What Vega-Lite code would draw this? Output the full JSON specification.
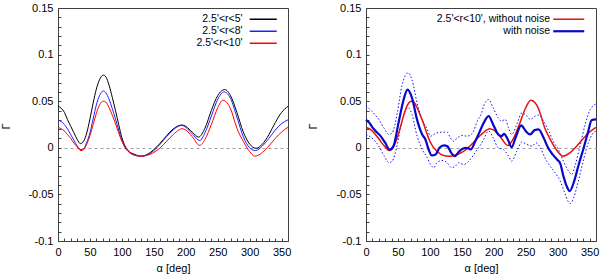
{
  "$schema": "https://vega.github.io/schema/vega-lite/v6.json",
  "padding": {"left": 0, "top": 1, "right": 0, "bottom": 0},
  "spacing": 78,
  "bounds": "flush",
  "resolve": {"scale": {"color": "independent", "strokeWidth": "independent"}, "legend": {"color": "independent"}},
  "config": {
    "font": "'Liberation Sans Narrow', 'Liberation Sans', Arial, sans-serif",
    "view": {"stroke": "#404040", "strokeWidth": 1},
    "axis": {
      "domainColor": "#404040",
      "tickColor": "#404040",
      "tickSize": -3,
      "labelFontSize": 11,
      "labelColor": "#000000",
      "labelPadding": 8,
      "labelOverlap": false,
      "labelFlush": false,
      "titleFontSize": 11,
      "titleFontWeight": "normal",
      "titleColor": "#000000"
    },
    "legend": {"labelFontSize": 10.5, "labelColor": "#000000", "rowPadding": 1}
  },
  "datasets": {
    "left": [
      {"s": "2.5'<r<5'", "a": 0, "g": 0.0445}, {"s": "2.5'<r<5'", "a": 10, "g": 0.038}, {"s": "2.5'<r<5'", "a": 15, "g": 0.030}, {"s": "2.5'<r<5'", "a": 20, "g": 0.023}, {"s": "2.5'<r<5'", "a": 25, "g": 0.016}, {"s": "2.5'<r<5'", "a": 30, "g": 0.009}, {"s": "2.5'<r<5'", "a": 35, "g": 0.0045}, {"s": "2.5'<r<5'", "a": 40, "g": 0.007}, {"s": "2.5'<r<5'", "a": 45, "g": 0.016}, {"s": "2.5'<r<5'", "a": 50, "g": 0.031}, {"s": "2.5'<r<5'", "a": 55, "g": 0.048}, {"s": "2.5'<r<5'", "a": 60, "g": 0.063}, {"s": "2.5'<r<5'", "a": 65, "g": 0.073}, {"s": "2.5'<r<5'", "a": 71, "g": 0.078}, {"s": "2.5'<r<5'", "a": 75, "g": 0.076}, {"s": "2.5'<r<5'", "a": 80, "g": 0.067}, {"s": "2.5'<r<5'", "a": 85, "g": 0.054}, {"s": "2.5'<r<5'", "a": 90, "g": 0.040}, {"s": "2.5'<r<5'", "a": 95, "g": 0.025}, {"s": "2.5'<r<5'", "a": 100, "g": 0.011}, {"s": "2.5'<r<5'", "a": 105, "g": 0.002}, {"s": "2.5'<r<5'", "a": 110, "g": -0.003}, {"s": "2.5'<r<5'", "a": 120, "g": -0.007}, {"s": "2.5'<r<5'", "a": 130, "g": -0.009}, {"s": "2.5'<r<5'", "a": 140, "g": -0.007}, {"s": "2.5'<r<5'", "a": 150, "g": -0.002}, {"s": "2.5'<r<5'", "a": 160, "g": 0.005}, {"s": "2.5'<r<5'", "a": 170, "g": 0.013}, {"s": "2.5'<r<5'", "a": 180, "g": 0.020}, {"s": "2.5'<r<5'", "a": 190, "g": 0.024}, {"s": "2.5'<r<5'", "a": 194, "g": 0.0245}, {"s": "2.5'<r<5'", "a": 200, "g": 0.023}, {"s": "2.5'<r<5'", "a": 210, "g": 0.017}, {"s": "2.5'<r<5'", "a": 220, "g": 0.0115}, {"s": "2.5'<r<5'", "a": 230, "g": 0.021}, {"s": "2.5'<r<5'", "a": 240, "g": 0.040}, {"s": "2.5'<r<5'", "a": 250, "g": 0.056}, {"s": "2.5'<r<5'", "a": 261, "g": 0.0625}, {"s": "2.5'<r<5'", "a": 270, "g": 0.056}, {"s": "2.5'<r<5'", "a": 280, "g": 0.038}, {"s": "2.5'<r<5'", "a": 290, "g": 0.017}, {"s": "2.5'<r<5'", "a": 300, "g": 0.004}, {"s": "2.5'<r<5'", "a": 310, "g": -0.0005}, {"s": "2.5'<r<5'", "a": 320, "g": 0.004}, {"s": "2.5'<r<5'", "a": 330, "g": 0.014}, {"s": "2.5'<r<5'", "a": 340, "g": 0.027}, {"s": "2.5'<r<5'", "a": 350, "g": 0.038}, {"s": "2.5'<r<5'", "a": 360, "g": 0.0445},
      {"s": "2.5'<r<8'", "a": 0, "g": 0.030}, {"s": "2.5'<r<8'", "a": 10, "g": 0.025}, {"s": "2.5'<r<8'", "a": 15, "g": 0.020}, {"s": "2.5'<r<8'", "a": 20, "g": 0.014}, {"s": "2.5'<r<8'", "a": 25, "g": 0.008}, {"s": "2.5'<r<8'", "a": 30, "g": 0.002}, {"s": "2.5'<r<8'", "a": 36, "g": -0.002}, {"s": "2.5'<r<8'", "a": 40, "g": -0.001}, {"s": "2.5'<r<8'", "a": 45, "g": 0.006}, {"s": "2.5'<r<8'", "a": 50, "g": 0.016}, {"s": "2.5'<r<8'", "a": 55, "g": 0.031}, {"s": "2.5'<r<8'", "a": 60, "g": 0.046}, {"s": "2.5'<r<8'", "a": 65, "g": 0.056}, {"s": "2.5'<r<8'", "a": 71, "g": 0.061}, {"s": "2.5'<r<8'", "a": 75, "g": 0.059}, {"s": "2.5'<r<8'", "a": 80, "g": 0.052}, {"s": "2.5'<r<8'", "a": 85, "g": 0.042}, {"s": "2.5'<r<8'", "a": 90, "g": 0.031}, {"s": "2.5'<r<8'", "a": 95, "g": 0.019}, {"s": "2.5'<r<8'", "a": 100, "g": 0.008}, {"s": "2.5'<r<8'", "a": 105, "g": 0.000}, {"s": "2.5'<r<8'", "a": 110, "g": -0.004}, {"s": "2.5'<r<8'", "a": 120, "g": -0.008}, {"s": "2.5'<r<8'", "a": 130, "g": -0.009}, {"s": "2.5'<r<8'", "a": 140, "g": -0.0075}, {"s": "2.5'<r<8'", "a": 150, "g": -0.003}, {"s": "2.5'<r<8'", "a": 160, "g": 0.004}, {"s": "2.5'<r<8'", "a": 170, "g": 0.012}, {"s": "2.5'<r<8'", "a": 180, "g": 0.019}, {"s": "2.5'<r<8'", "a": 190, "g": 0.0235}, {"s": "2.5'<r<8'", "a": 194, "g": 0.024}, {"s": "2.5'<r<8'", "a": 200, "g": 0.022}, {"s": "2.5'<r<8'", "a": 210, "g": 0.015}, {"s": "2.5'<r<8'", "a": 222, "g": 0.0078}, {"s": "2.5'<r<8'", "a": 230, "g": 0.016}, {"s": "2.5'<r<8'", "a": 240, "g": 0.034}, {"s": "2.5'<r<8'", "a": 250, "g": 0.052}, {"s": "2.5'<r<8'", "a": 260, "g": 0.060}, {"s": "2.5'<r<8'", "a": 270, "g": 0.053}, {"s": "2.5'<r<8'", "a": 280, "g": 0.033}, {"s": "2.5'<r<8'", "a": 290, "g": 0.012}, {"s": "2.5'<r<8'", "a": 300, "g": 0.000}, {"s": "2.5'<r<8'", "a": 309, "g": -0.003}, {"s": "2.5'<r<8'", "a": 320, "g": 0.002}, {"s": "2.5'<r<8'", "a": 330, "g": 0.010}, {"s": "2.5'<r<8'", "a": 340, "g": 0.019}, {"s": "2.5'<r<8'", "a": 350, "g": 0.026}, {"s": "2.5'<r<8'", "a": 360, "g": 0.030},
      {"s": "2.5'<r<10'", "a": 0, "g": 0.022}, {"s": "2.5'<r<10'", "a": 10, "g": 0.018}, {"s": "2.5'<r<10'", "a": 15, "g": 0.014}, {"s": "2.5'<r<10'", "a": 20, "g": 0.010}, {"s": "2.5'<r<10'", "a": 25, "g": 0.005}, {"s": "2.5'<r<10'", "a": 30, "g": 0.001}, {"s": "2.5'<r<10'", "a": 36, "g": -0.003}, {"s": "2.5'<r<10'", "a": 40, "g": -0.002}, {"s": "2.5'<r<10'", "a": 45, "g": 0.004}, {"s": "2.5'<r<10'", "a": 50, "g": 0.013}, {"s": "2.5'<r<10'", "a": 55, "g": 0.025}, {"s": "2.5'<r<10'", "a": 60, "g": 0.037}, {"s": "2.5'<r<10'", "a": 65, "g": 0.046}, {"s": "2.5'<r<10'", "a": 71, "g": 0.050}, {"s": "2.5'<r<10'", "a": 75, "g": 0.049}, {"s": "2.5'<r<10'", "a": 80, "g": 0.043}, {"s": "2.5'<r<10'", "a": 85, "g": 0.035}, {"s": "2.5'<r<10'", "a": 90, "g": 0.026}, {"s": "2.5'<r<10'", "a": 95, "g": 0.016}, {"s": "2.5'<r<10'", "a": 100, "g": 0.007}, {"s": "2.5'<r<10'", "a": 105, "g": 0.001}, {"s": "2.5'<r<10'", "a": 110, "g": -0.003}, {"s": "2.5'<r<10'", "a": 120, "g": -0.008}, {"s": "2.5'<r<10'", "a": 130, "g": -0.009}, {"s": "2.5'<r<10'", "a": 140, "g": -0.008}, {"s": "2.5'<r<10'", "a": 150, "g": -0.005}, {"s": "2.5'<r<10'", "a": 160, "g": 0.000}, {"s": "2.5'<r<10'", "a": 170, "g": 0.007}, {"s": "2.5'<r<10'", "a": 180, "g": 0.014}, {"s": "2.5'<r<10'", "a": 190, "g": 0.0195}, {"s": "2.5'<r<10'", "a": 194, "g": 0.0205}, {"s": "2.5'<r<10'", "a": 200, "g": 0.019}, {"s": "2.5'<r<10'", "a": 210, "g": 0.012}, {"s": "2.5'<r<10'", "a": 222, "g": 0.0025}, {"s": "2.5'<r<10'", "a": 230, "g": 0.009}, {"s": "2.5'<r<10'", "a": 240, "g": 0.025}, {"s": "2.5'<r<10'", "a": 250, "g": 0.043}, {"s": "2.5'<r<10'", "a": 258, "g": 0.051}, {"s": "2.5'<r<10'", "a": 265, "g": 0.048}, {"s": "2.5'<r<10'", "a": 270, "g": 0.042}, {"s": "2.5'<r<10'", "a": 280, "g": 0.021}, {"s": "2.5'<r<10'", "a": 290, "g": 0.007}, {"s": "2.5'<r<10'", "a": 300, "g": -0.004}, {"s": "2.5'<r<10'", "a": 308, "g": -0.009}, {"s": "2.5'<r<10'", "a": 320, "g": -0.005}, {"s": "2.5'<r<10'", "a": 330, "g": 0.002}, {"s": "2.5'<r<10'", "a": 340, "g": 0.010}, {"s": "2.5'<r<10'", "a": 350, "g": 0.017}, {"s": "2.5'<r<10'", "a": 360, "g": 0.022}
    ],
    "right": [
      {"s": "2.5'<r<10', without noise", "a": 0, "g": 0.022}, {"s": "2.5'<r<10', without noise", "a": 10, "g": 0.018}, {"s": "2.5'<r<10', without noise", "a": 15, "g": 0.014}, {"s": "2.5'<r<10', without noise", "a": 20, "g": 0.010}, {"s": "2.5'<r<10', without noise", "a": 25, "g": 0.005}, {"s": "2.5'<r<10', without noise", "a": 30, "g": 0.001}, {"s": "2.5'<r<10', without noise", "a": 36, "g": -0.003}, {"s": "2.5'<r<10', without noise", "a": 40, "g": -0.002}, {"s": "2.5'<r<10', without noise", "a": 45, "g": 0.004}, {"s": "2.5'<r<10', without noise", "a": 50, "g": 0.013}, {"s": "2.5'<r<10', without noise", "a": 55, "g": 0.025}, {"s": "2.5'<r<10', without noise", "a": 60, "g": 0.037}, {"s": "2.5'<r<10', without noise", "a": 65, "g": 0.046}, {"s": "2.5'<r<10', without noise", "a": 71, "g": 0.050}, {"s": "2.5'<r<10', without noise", "a": 75, "g": 0.049}, {"s": "2.5'<r<10', without noise", "a": 80, "g": 0.043}, {"s": "2.5'<r<10', without noise", "a": 85, "g": 0.035}, {"s": "2.5'<r<10', without noise", "a": 90, "g": 0.026}, {"s": "2.5'<r<10', without noise", "a": 95, "g": 0.016}, {"s": "2.5'<r<10', without noise", "a": 100, "g": 0.007}, {"s": "2.5'<r<10', without noise", "a": 105, "g": 0.001}, {"s": "2.5'<r<10', without noise", "a": 110, "g": -0.003}, {"s": "2.5'<r<10', without noise", "a": 120, "g": -0.008}, {"s": "2.5'<r<10', without noise", "a": 130, "g": -0.009}, {"s": "2.5'<r<10', without noise", "a": 140, "g": -0.008}, {"s": "2.5'<r<10', without noise", "a": 150, "g": -0.005}, {"s": "2.5'<r<10', without noise", "a": 160, "g": 0.000}, {"s": "2.5'<r<10', without noise", "a": 170, "g": 0.007}, {"s": "2.5'<r<10', without noise", "a": 180, "g": 0.014}, {"s": "2.5'<r<10', without noise", "a": 190, "g": 0.0195}, {"s": "2.5'<r<10', without noise", "a": 194, "g": 0.0205}, {"s": "2.5'<r<10', without noise", "a": 200, "g": 0.019}, {"s": "2.5'<r<10', without noise", "a": 210, "g": 0.012}, {"s": "2.5'<r<10', without noise", "a": 222, "g": 0.0025}, {"s": "2.5'<r<10', without noise", "a": 230, "g": 0.009}, {"s": "2.5'<r<10', without noise", "a": 240, "g": 0.025}, {"s": "2.5'<r<10', without noise", "a": 250, "g": 0.043}, {"s": "2.5'<r<10', without noise", "a": 258, "g": 0.051}, {"s": "2.5'<r<10', without noise", "a": 265, "g": 0.048}, {"s": "2.5'<r<10', without noise", "a": 270, "g": 0.042}, {"s": "2.5'<r<10', without noise", "a": 280, "g": 0.021}, {"s": "2.5'<r<10', without noise", "a": 290, "g": 0.007}, {"s": "2.5'<r<10', without noise", "a": 300, "g": -0.004}, {"s": "2.5'<r<10', without noise", "a": 308, "g": -0.009}, {"s": "2.5'<r<10', without noise", "a": 320, "g": -0.005}, {"s": "2.5'<r<10', without noise", "a": 330, "g": 0.002}, {"s": "2.5'<r<10', without noise", "a": 340, "g": 0.010}, {"s": "2.5'<r<10', without noise", "a": 350, "g": 0.017}, {"s": "2.5'<r<10', without noise", "a": 360, "g": 0.022},
      {"s": "with noise", "a": 0, "g": 0.030}, {"s": "with noise", "a": 5, "g": 0.027}, {"s": "with noise", "a": 10, "g": 0.022}, {"s": "with noise", "a": 15, "g": 0.018}, {"s": "with noise", "a": 22, "g": 0.0133}, {"s": "with noise", "a": 30, "g": 0.0055}, {"s": "with noise", "a": 37, "g": -0.002}, {"s": "with noise", "a": 43, "g": 0.0018}, {"s": "with noise", "a": 51, "g": 0.027}, {"s": "with noise", "a": 59, "g": 0.052}, {"s": "with noise", "a": 65, "g": 0.0625}, {"s": "with noise", "a": 72, "g": 0.0536}, {"s": "with noise", "a": 80, "g": 0.030}, {"s": "with noise", "a": 88, "g": 0.0143}, {"s": "with noise", "a": 93, "g": 0.0089}, {"s": "with noise", "a": 98, "g": -0.0018}, {"s": "with noise", "a": 103, "g": -0.0082}, {"s": "with noise", "a": 109, "g": -0.0071}, {"s": "with noise", "a": 115, "g": 0.0}, {"s": "with noise", "a": 122, "g": 0.0025}, {"s": "with noise", "a": 127, "g": 0.0018}, {"s": "with noise", "a": 134, "g": -0.006}, {"s": "with noise", "a": 139, "g": -0.0089}, {"s": "with noise", "a": 145, "g": -0.0046}, {"s": "with noise", "a": 151, "g": -0.001}, {"s": "with noise", "a": 158, "g": 0.0}, {"s": "with noise", "a": 164, "g": -0.0018}, {"s": "with noise", "a": 171, "g": 0.0071}, {"s": "with noise", "a": 176, "g": 0.0143}, {"s": "with noise", "a": 183, "g": 0.025}, {"s": "with noise", "a": 192, "g": 0.034}, {"s": "with noise", "a": 199, "g": 0.025}, {"s": "with noise", "a": 207, "g": 0.0143}, {"s": "with noise", "a": 212, "g": 0.0125}, {"s": "with noise", "a": 216, "g": 0.015}, {"s": "with noise", "a": 222, "g": 0.0089}, {"s": "with noise", "a": 228, "g": 0.0007}, {"s": "with noise", "a": 234, "g": 0.0107}, {"s": "with noise", "a": 243, "g": 0.024}, {"s": "with noise", "a": 250, "g": 0.018}, {"s": "with noise", "a": 257, "g": 0.0143}, {"s": "with noise", "a": 264, "g": 0.019}, {"s": "with noise", "a": 270, "g": 0.0197}, {"s": "with noise", "a": 278, "g": 0.0107}, {"s": "with noise", "a": 285, "g": 0.0}, {"s": "with noise", "a": 292, "g": -0.0071}, {"s": "with noise", "a": 299, "g": -0.0125}, {"s": "with noise", "a": 304, "g": -0.0168}, {"s": "with noise", "a": 309, "g": -0.0304}, {"s": "with noise", "a": 314, "g": -0.041}, {"s": "with noise", "a": 319, "g": -0.0464}, {"s": "with noise", "a": 325, "g": -0.0375}, {"s": "with noise", "a": 333, "g": -0.0179}, {"s": "with noise", "a": 340, "g": -0.0018}, {"s": "with noise", "a": 348, "g": 0.018}, {"s": "with noise", "a": 353, "g": 0.0296}, {"s": "with noise", "a": 360, "g": 0.0304}
    ],
    "bounds": [
      {"b": "upper", "a": 0, "g": 0.045}, {"b": "upper", "a": 9, "g": 0.0393}, {"b": "upper", "a": 20, "g": 0.0304}, {"b": "upper", "a": 28, "g": 0.0214}, {"b": "upper", "a": 36, "g": 0.0143}, {"b": "upper", "a": 41, "g": 0.016}, {"b": "upper", "a": 49, "g": 0.0375}, {"b": "upper", "a": 56, "g": 0.066}, {"b": "upper", "a": 66, "g": 0.0804}, {"b": "upper", "a": 72, "g": 0.073}, {"b": "upper", "a": 80, "g": 0.048}, {"b": "upper", "a": 88, "g": 0.0304}, {"b": "upper", "a": 96, "g": 0.0197}, {"b": "upper", "a": 101, "g": 0.0125}, {"b": "upper", "a": 106, "g": 0.0143}, {"b": "upper", "a": 111, "g": 0.016}, {"b": "upper", "a": 119, "g": 0.0168}, {"b": "upper", "a": 127, "g": 0.0168}, {"b": "upper", "a": 132, "g": 0.0107}, {"b": "upper", "a": 137, "g": 0.0071}, {"b": "upper", "a": 143, "g": 0.0107}, {"b": "upper", "a": 151, "g": 0.0133}, {"b": "upper", "a": 158, "g": 0.0125}, {"b": "upper", "a": 166, "g": 0.015}, {"b": "upper", "a": 175, "g": 0.030}, {"b": "upper", "a": 181, "g": 0.0375}, {"b": "upper", "a": 184, "g": 0.0447}, {"b": "upper", "a": 192, "g": 0.0518}, {"b": "upper", "a": 199, "g": 0.0429}, {"b": "upper", "a": 207, "g": 0.0321}, {"b": "upper", "a": 212, "g": 0.0286}, {"b": "upper", "a": 218, "g": 0.0304}, {"b": "upper", "a": 223, "g": 0.0214}, {"b": "upper", "a": 228, "g": 0.0143}, {"b": "upper", "a": 236, "g": 0.025}, {"b": "upper", "a": 244, "g": 0.0375}, {"b": "upper", "a": 252, "g": 0.034}, {"b": "upper", "a": 257, "g": 0.0304}, {"b": "upper", "a": 265, "g": 0.034}, {"b": "upper", "a": 270, "g": 0.035}, {"b": "upper", "a": 278, "g": 0.0286}, {"b": "upper", "a": 286, "g": 0.018}, {"b": "upper", "a": 293, "g": 0.0071}, {"b": "upper", "a": 301, "g": -0.0018}, {"b": "upper", "a": 309, "g": -0.0143}, {"b": "upper", "a": 317, "g": -0.025}, {"b": "upper", "a": 322, "g": -0.0286}, {"b": "upper", "a": 327, "g": -0.0196}, {"b": "upper", "a": 335, "g": 0.0018}, {"b": "upper", "a": 343, "g": 0.025}, {"b": "upper", "a": 351, "g": 0.0411}, {"b": "upper", "a": 360, "g": 0.047},
      {"b": "lower", "a": 0, "g": 0.0143}, {"b": "lower", "a": 9, "g": 0.0107}, {"b": "lower", "a": 20, "g": 0.0018}, {"b": "lower", "a": 28, "g": -0.0082}, {"b": "lower", "a": 36, "g": -0.016}, {"b": "lower", "a": 41, "g": -0.0143}, {"b": "lower", "a": 49, "g": 0.0036}, {"b": "lower", "a": 56, "g": 0.0286}, {"b": "lower", "a": 66, "g": 0.0429}, {"b": "lower", "a": 72, "g": 0.0357}, {"b": "lower", "a": 80, "g": 0.0125}, {"b": "lower", "a": 88, "g": -0.0018}, {"b": "lower", "a": 96, "g": -0.0107}, {"b": "lower", "a": 101, "g": -0.0179}, {"b": "lower", "a": 106, "g": -0.0214}, {"b": "lower", "a": 111, "g": -0.016}, {"b": "lower", "a": 119, "g": -0.0136}, {"b": "lower", "a": 127, "g": -0.016}, {"b": "lower", "a": 134, "g": -0.0214}, {"b": "lower", "a": 140, "g": -0.0196}, {"b": "lower", "a": 145, "g": -0.016}, {"b": "lower", "a": 153, "g": -0.0179}, {"b": "lower", "a": 161, "g": -0.0143}, {"b": "lower", "a": 169, "g": -0.0071}, {"b": "lower", "a": 176, "g": 0.0}, {"b": "lower", "a": 181, "g": 0.005}, {"b": "lower", "a": 184, "g": 0.0089}, {"b": "lower", "a": 192, "g": 0.018}, {"b": "lower", "a": 199, "g": 0.0107}, {"b": "lower", "a": 207, "g": 0.0}, {"b": "lower", "a": 215, "g": -0.0018}, {"b": "lower", "a": 223, "g": -0.0089}, {"b": "lower", "a": 228, "g": -0.0143}, {"b": "lower", "a": 236, "g": -0.0036}, {"b": "lower", "a": 244, "g": 0.0061}, {"b": "lower", "a": 252, "g": 0.0036}, {"b": "lower", "a": 260, "g": 0.0018}, {"b": "lower", "a": 266, "g": 0.0054}, {"b": "lower", "a": 273, "g": 0.0}, {"b": "lower", "a": 280, "g": -0.0107}, {"b": "lower", "a": 288, "g": -0.0196}, {"b": "lower", "a": 296, "g": -0.0268}, {"b": "lower", "a": 304, "g": -0.0357}, {"b": "lower", "a": 311, "g": -0.0482}, {"b": "lower", "a": 316, "g": -0.0571}, {"b": "lower", "a": 320, "g": -0.0597}, {"b": "lower", "a": 325, "g": -0.0536}, {"b": "lower", "a": 333, "g": -0.034}, {"b": "lower", "a": 340, "g": -0.0143}, {"b": "lower", "a": 348, "g": 0.0054}, {"b": "lower", "a": 354, "g": 0.0143}, {"b": "lower", "a": 360, "g": 0.018}
    ]
  },
  "hconcat": [
    {
      "width": 230,
      "height": 233,
      "data": {"name": "left"},
      "mark": {"type": "line", "interpolate": "monotone", "strokeWidth": 1},
      "encoding": {
        "x": {
          "field": "a", "type": "quantitative",
          "scale": {"domain": [0, 360], "nice": false, "zero": false},
          "axis": {
            "title": "α [deg]",
            "grid": false,
            "values": [0,10,20,30,40,50,60,70,80,90,100,110,120,130,140,150,160,170,180,190,200,210,220,230,240,250,260,270,280,290,300,310,320,330,340,350,360],
            "labelExpr": "datum.value % 50 == 0 ? datum.label : ''",
            "titleBaseline": "middle",
            "titleY": 27
          }
        },
        "y": {
          "field": "g", "type": "quantitative",
          "scale": {"domain": [-0.1, 0.15], "nice": false, "zero": false},
          "axis": {
            "title": "Γ",
            "grid": true,
            "gridColor": "#a0a0a0",
            "gridDash": [3, 3],
            "gridWidth": 1,
            "gridOpacity": {"condition": {"test": "abs(datum.value) < 0.0001", "value": 1}, "value": 0},
            "values": [-0.1,-0.09,-0.08,-0.07,-0.06,-0.05,-0.04,-0.03,-0.02,-0.01,0,0.01,0.02,0.03,0.04,0.05,0.06,0.07,0.08,0.09,0.1,0.11,0.12,0.13,0.14,0.15],
            "labelExpr": "indexof(['-0.1','-0.05','0','0.05','0.1','0.15'], replace(format(datum.value, '.2~f'), '\u2212', '-')) >= 0 ? replace(format(datum.value, '.2~f'), '\u2212', '-') : ''",
            "titleAlign": "center",
            "titleBaseline": "middle",
            "titleX": -51.5,
            "titleY": 118
          }
        },
        "color": {
          "field": "s", "type": "nominal",
          "scale": {"domain": ["2.5'<r<5'", "2.5'<r<8'", "2.5'<r<10'"], "range": ["#000000", "#2020ff", "#ff0000"]},
          "legend": {
            "title": null,
            "orient": "none",
            "legendX": 200,
            "legendY": 6,
            "symbolType": "M-3.86,0H3.86",
            "symbolSize": 49,
            "symbolStrokeWidth": 1.5,
            "labelAlign": "right",
            "labelOffset": -26
          }
        }
      }
    },
    {
      "width": 230,
      "height": 233,
      "encoding": {
        "x": {
          "field": "a", "type": "quantitative",
          "scale": {"domain": [0, 360], "nice": false, "zero": false},
          "axis": {
            "title": "α [deg]",
            "grid": false,
            "values": [0,10,20,30,40,50,60,70,80,90,100,110,120,130,140,150,160,170,180,190,200,210,220,230,240,250,260,270,280,290,300,310,320,330,340,350,360],
            "labelExpr": "datum.value % 50 == 0 ? datum.label : ''",
            "titleBaseline": "middle",
            "titleY": 27
          }
        },
        "y": {
          "field": "g", "type": "quantitative",
          "scale": {"domain": [-0.1, 0.15], "nice": false, "zero": false},
          "axis": {
            "title": "Γ",
            "grid": true,
            "gridColor": "#a0a0a0",
            "gridDash": [3, 3],
            "gridWidth": 1,
            "gridOpacity": {"condition": {"test": "abs(datum.value) < 0.0001", "value": 1}, "value": 0},
            "values": [-0.1,-0.09,-0.08,-0.07,-0.06,-0.05,-0.04,-0.03,-0.02,-0.01,0,0.01,0.02,0.03,0.04,0.05,0.06,0.07,0.08,0.09,0.1,0.11,0.12,0.13,0.14,0.15],
            "labelExpr": "indexof(['-0.1','-0.05','0','0.05','0.1','0.15'], replace(format(datum.value, '.2~f'), '\u2212', '-')) >= 0 ? replace(format(datum.value, '.2~f'), '\u2212', '-') : ''",
            "titleAlign": "center",
            "titleBaseline": "middle",
            "titleX": -52.5,
            "titleY": 118
          }
        }
      },
      "layer": [
        {
          "data": {"name": "bounds"},
          "mark": {"type": "line", "interpolate": "monotone", "strokeWidth": 1, "stroke": "#1010ff", "strokeDash": [1.5, 2]},
          "encoding": {
            "detail": {"field": "b", "type": "nominal"}
          }
        },
        {
          "data": {"name": "right"},
          "mark": {"type": "line", "interpolate": "monotone"},
          "encoding": {
            "color": {
              "field": "s", "type": "nominal",
              "scale": {"domain": ["2.5'<r<10', without noise", "with noise"], "range": ["#e81010", "#0808c8"]},
              "legend": {
                "title": null,
                "orient": "none",
                "legendX": 197.5,
                "legendY": 6,
                "symbolType": "M-4.43,0H4.43",
                "symbolSize": 49,
                "symbolStrokeWidth": 2,
                "labelAlign": "right",
                "labelOffset": -24
              }
            },
            "strokeWidth": {
              "field": "s", "type": "nominal",
              "scale": {"domain": ["2.5'<r<10', without noise", "with noise"], "range": [1.5, 2.2]},
              "legend": null
            }
          }
        }
      ]
    }
  ]
}
